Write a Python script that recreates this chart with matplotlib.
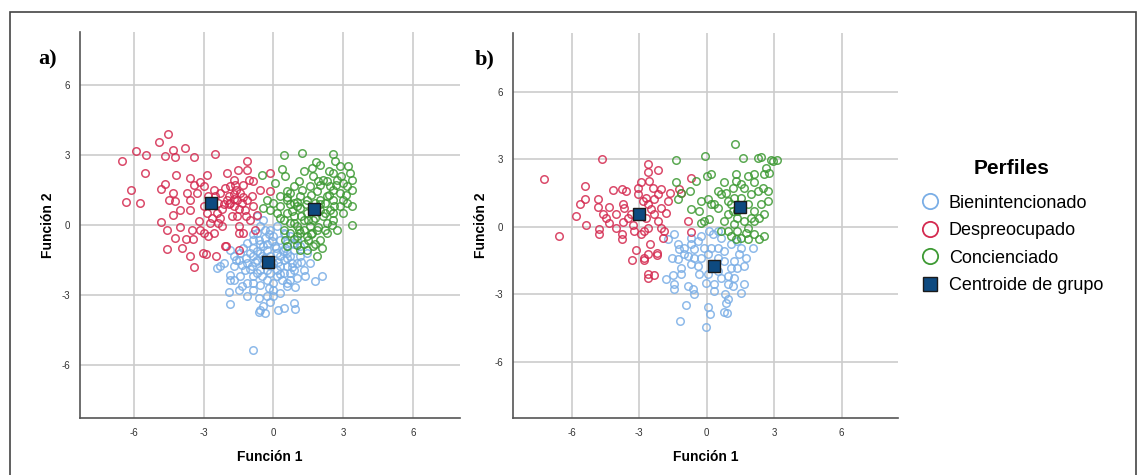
import matplotlib.pyplot as plt
from matplotlib.lines import Line2D
from matplotlib.patches import Rectangle

# ---- data (Función 1, Función 2) ----
# panel a)
a_desp = [(-4.53, 3.92), (-4.9, 3.56), (-5.89, 3.2), (-6.5, 2.77), (-5.46, 3.01), (-4.67, 2.96),
          (-4.33, 3.24), (-4.24, 2.93), (-3.79, 3.29), (-3.43, 2.91), (-2.53, 3.06), (-1.13, 2.77),
          (-5.53, 2.24), (-6.11, 1.52), (-6.31, 0.99), (-5.71, 0.96), (-4.81, 1.56), (-4.64, 1.78),
          (-4.19, 2.17), (-4.29, 1.38), (-4.21, 1.05), (-3.57, 2.02), (-3.57, 1.09), (-3.6, 0.66),
          (-4.81, 0.13), (-4.33, 0.44), (-4.57, -0.2), (-4.0, -0.1), (-4.21, -0.56), (-4.57, -1.03),
          (-3.93, -0.99), (-3.6, -1.32), (-3.39, -1.81), (-3.04, -1.21), (-2.9, -1.25), (-3.74, -0.6),
          (-3.46, -0.6), (-2.46, -1.32), (-2.03, -0.89), (-3.14, -0.2), (-3.0, -0.34), (-3.21, 0.16),
          (-3.14, 1.84), (-3.43, 1.74), (-2.86, 2.14), (-3.0, 1.66), (-3.29, 1.38), (-2.57, 1.52),
          (-2.5, 1.23), (-2.43, 0.52), (-2.64, 0.3), (-2.29, 0.3), (-2.86, 0.52), (-2.21, -0.06),
          (-2.57, -0.34), (-2.79, -0.49), (-3.0, 0.8), (-2.0, 2.24), (-1.71, 1.95), (-1.54, 2.35),
          (-1.14, 2.35), (-1.07, 1.95), (-1.86, 1.66), (-1.64, 1.74), (-1.43, 1.38), (-2.0, 1.09),
          (-1.86, 0.95), (-1.71, 0.8), (-1.57, 1.09), (-1.36, 0.95), (-1.14, 1.09), (-1.21, 0.66),
          (-1.57, 0.37), (-1.5, -0.06), (-1.29, -0.34), (-1.5, -0.34), (-0.86, 1.88), (-0.57, 1.52),
          (-0.17, 1.48), (-0.79, -0.2), (-0.71, 0.44), (-0.86, 0.8), (-1.0, 0.23), (-1.93, 1.23),
          (-2.11, 0.92), (-1.71, 1.35), (-1.31, 1.74), (-0.93, 1.23), (-2.07, -0.92), (-1.47, -1.09),
          (-0.14, 2.24), (-2.29, 1.38), (-2.79, 1.23), (-2.36, 0.95), (-4.0, 0.66), (-3.71, 1.38),
          (-4.5, 1.09), (-2.71, 0.09), (-3.5, -0.2),
          (-1.9, 0.9), (-1.7, 1.1), (-1.5, 0.7), (-1.3, 1.2), (-2.2, 0.7), (-1.6, 1.5), (-1.2, 0.4),
          (-2.4, 0.1), (-1.8, 0.4), (-2.1, 1.6)]
a_conc = [(0.43, 3.01), (1.21, 3.1), (2.57, 3.06), (2.64, 2.77), (1.83, 2.7), (3.21, 2.53), (3.29, 2.24),
          (3.36, 1.95), (3.36, 1.52), (3.36, 0.8), (3.36, 0.01), (3.14, 1.66), (3.0, 1.09), (2.86, 0.8),
          (-0.5, 2.17), (0.07, 1.81), (0.36, 2.41), (0.5, 2.09), (1.29, 2.31), (1.64, 2.45), (2.0, 2.6),
          (2.36, 2.31), (2.71, 1.95), (2.43, 1.66), (2.0, 1.74), (1.71, 2.09), (0.86, 1.66), (1.21, 1.52),
          (0.29, 1.23), (0.57, 1.09), (0.86, 0.95), (1.14, 1.23), (1.43, 1.09), (2.0, 1.09), (2.29, 1.23),
          (2.57, 1.09), (2.43, 0.66), (2.14, 0.37), (2.57, 0.23), (2.71, -0.2), (2.29, -0.34), (2.0, -0.63),
          (1.71, -0.92), (2.07, -0.99), (1.86, -1.32), (1.43, -1.06), (1.14, -1.06), (1.0, -0.85),
          (0.57, -0.92), (0.5, -0.63), (0.71, -0.34), (1.0, -0.06), (1.29, 0.23), (1.57, -0.06),
          (1.86, -0.2), (1.43, -0.49), (1.14, -0.34), (0.86, 0.37), (0.57, 0.52), (0.43, 0.23),
          (0.14, 0.52), (0.29, 0.8), (0.0, 0.95), (-0.14, 0.66), (-0.43, 0.73), (-0.29, 1.09),
          (1.71, 0.66), (2.0, 0.66), (1.43, 0.52), (1.14, 0.73), (2.29, 0.09), (1.71, 0.23), (2.86, 1.38),
          (2.57, 1.52), (3.0, 1.81), (1.86, 1.48), (1.57, 1.66), (0.71, 1.38), (1.0, 0.8), (1.5, -0.63),
          (1.64, -0.34), (2.57, 0.52), (3.14, 0.95), (2.57, 2.24), (2.14, 1.95), (2.86, 2.53), (0.57, 1.45),
          (2.21, 0.95), (1.79, 0.95), (1.29, -0.2), (0.71, 0.09), (1.0, -0.49), (0.43, -0.2),
          (0.6, 1.2), (0.8, 0.6), (1.0, 1.0), (1.2, 0.4), (1.4, 0.9), (1.6, 1.3), (1.8, 0.3), (2.0, 0.9),
          (2.2, 0.5), (2.4, 1.3), (2.6, 0.8), (1.1, -0.2), (1.3, -0.8), (1.6, -0.4), (1.9, -0.1),
          (2.2, -0.2), (0.9, 0.1), (0.7, 0.9), (1.5, 0.2), (2.7, 1.7), (2.9, 2.1), (3.1, 1.3), (2.3, 1.9),
          (1.9, 1.9), (1.1, 1.9), (0.3, 0.3), (0.9, -0.6), (1.8, -0.8), (2.5, 0.0), (3.0, 0.5)]
a_bien = [(-0.86, -5.37), (-1.86, -3.4), (-1.89, -2.88), (-1.86, -2.35), (-1.86, -2.14), (-2.43, -1.85),
          (-2.29, -1.78), (-2.14, -1.64), (-1.71, -1.78), (-1.5, -1.49), (-1.71, -1.35), (-1.43, -1.21),
          (-1.86, -1.06), (-1.14, -0.77), (-0.86, -0.63), (-0.71, -0.34), (-0.57, -0.06), (-0.43, 0.23),
          (-0.71, 0.37), (-0.14, -0.2), (0.14, -0.06), (0.0, -0.49), (0.29, -0.63), (0.57, -0.77),
          (0.86, -1.06), (0.71, -1.35), (1.0, -1.64), (0.86, -1.92), (0.71, -2.35), (0.93, -2.67),
          (0.57, -2.64), (0.29, -2.93), (0.0, -2.78), (-0.29, -3.07), (-0.14, -3.29), (-0.43, -3.5),
          (-0.57, -3.64), (-0.36, -3.79), (-0.64, -3.72), (0.21, -3.64), (0.43, -3.57), (0.86, -3.36),
          (0.93, -3.62), (-1.14, -3.07), (-1.36, -2.64), (-1.5, -2.78), (-1.14, -2.5), (-0.86, -2.21),
          (-0.57, -2.57), (-0.64, -3.14), (-0.86, -2.78), (-1.43, -2.21), (-1.21, -1.92), (-0.93, -1.78),
          (-0.71, -1.49), (-1.0, -1.21), (-0.86, -0.99), (-0.57, -1.21), (-0.29, -1.06), (-0.43, -0.92),
          (-0.14, -1.35), (0.14, -1.21), (0.0, -1.64), (0.29, -1.78), (0.43, -1.49), (0.57, -1.78),
          (0.43, -2.07), (0.14, -2.21), (-0.14, -2.07), (-0.29, -1.92), (-0.43, -1.64), (-0.57, -1.92),
          (-0.71, -2.07), (0.14, -1.92), (0.36, -2.35), (0.0, -2.5), (-0.29, -2.35), (1.14, -1.35),
          (1.29, -1.92), (1.36, -2.21), (1.79, -2.42), (2.07, -2.21), (1.57, -1.64), (1.43, -1.21),
          (1.14, -0.92), (1.0, -0.63), (0.71, -0.49), (0.43, -0.34), (0.57, -1.21), (0.79, -1.64),
          (0.5, -0.99), (0.07, -0.92), (-0.07, -0.7), (-0.36, -0.56), (-0.36, -0.2), (-0.64, -0.63),
          (-0.86, -1.35), (-1.14, -1.64), (-1.36, -1.71), (-1.71, -2.35), (0.0, -3.07), (0.57, -2.5),
          (0.71, -2.07), (0.29, -1.35), (-0.5, -1.35), (-0.21, -1.71),
          (-0.9, -0.4), (-0.6, -0.8), (-0.3, -0.8), (0.1, -1.0), (0.4, -1.1), (-0.8, -1.6), (-0.4, -1.4),
          (0.2, -1.6), (0.6, -1.4), (-1.2, -1.4), (-1.0, -1.9), (-0.5, -2.2), (0.3, -2.1), (0.8, -1.8),
          (1.0, -2.3), (-0.2, -2.7), (-0.9, -2.5), (1.2, -1.6), (0.5, -0.4), (-0.2, -0.4), (-1.3, -1.0),
          (-1.6, -1.5), (0.9, -0.8), (-0.7, -1.1)]
a_cent = [(-0.24, -1.59), (-2.69, 0.95), (1.74, 0.69)]

# panel b)
b_desp = [(-7.21, 2.13), (-6.55, -0.43), (-4.65, 3.0), (-5.39, 1.82), (-5.39, 1.24), (-5.63, 0.99),
          (-5.81, 0.47), (-5.35, 0.09), (-4.83, 1.23), (-4.84, 0.89), (-4.8, -0.12), (-4.77, -0.31),
          (-4.62, 0.55), (-4.47, 0.37), (-4.34, 0.18), (-4.33, 0.87), (-4.18, 1.63), (-4.03, 0.55),
          (-4.03, -0.07), (-3.76, 1.67), (-3.58, 1.58), (-3.73, 1.02), (-3.69, 0.84), (-3.73, 0.22),
          (-3.76, -0.34), (-3.76, -0.53), (-3.36, 0.55), (-3.5, 0.4), (-3.29, 0.07), (-3.14, -1.05),
          (-3.32, -1.48), (-2.8, -1.38), (-2.77, -1.47), (-2.62, -1.23), (-2.2, -1.16), (-2.2, -1.26),
          (-2.5, -0.79), (-2.62, -2.12), (-2.62, -2.27), (-2.33, -2.15), (-3.07, 1.73), (-3.07, 1.44),
          (-2.92, 1.96), (-2.84, 1.14), (-2.61, 2.77), (-2.6, 2.44), (-2.15, 2.5), (-2.55, 2.03),
          (-2.4, 1.73), (-2.17, 1.44), (-2.03, 1.66), (-2.33, 1.21), (-2.62, 0.99), (-2.47, 0.77),
          (-2.33, 0.55), (-2.17, 0.25), (-2.03, -0.04), (-1.88, -0.19), (-1.95, -0.49), (-2.62, -0.04),
          (-2.77, -0.19), (-2.92, -0.34), (-2.7, 0.4), (-1.81, 0.59), (-1.63, 1.48), (-1.73, 1.14),
          (-2.03, 0.84), (-3.21, -0.19), (-2.7, 1.29), (-0.69, 2.15), (-0.69, -0.24), (-0.84, 0.25),
          (-1.21, 1.66), (-1.14, 1.51)]
b_conc = [(1.26, 3.69), (-0.06, 3.14), (-1.34, 2.97), (1.6, 3.07), (2.27, 3.07), (2.41, 3.1), (2.86, 2.95),
          (3.12, 2.95), (2.97, 2.92), (2.64, 2.62), (2.78, 2.4), (2.56, 2.33), (2.12, 2.33), (1.82, 2.25),
          (1.3, 2.33), (1.32, 2.03), (0.79, 1.98), (0.01, 2.25), (0.19, 2.33), (-0.47, 2.03), (-1.36, 1.96),
          (-1.14, 1.51), (-1.29, 1.21), (-0.73, 1.58), (-0.25, 1.14), (0.04, 1.21), (0.19, 0.99),
          (0.49, 0.84), (0.12, 0.33), (-0.13, 0.25), (-0.33, 0.69), (-0.69, 0.77), (-0.25, 0.18),
          (0.64, 1.44), (0.49, 1.58), (0.93, 1.14), (0.93, 0.55), (0.79, 0.25), (0.64, -0.19), (0.93, -0.19),
          (1.23, 0.1), (1.37, -0.19), (1.52, -0.49), (1.82, -0.56), (2.12, -0.34), (2.33, -0.56),
          (2.56, -0.41), (2.56, 0.55), (2.41, 0.99), (2.71, 1.14), (2.71, 1.58), (2.49, 1.73), (2.27, 1.58),
          (1.97, 1.44), (1.67, 1.73), (1.52, 1.29), (1.82, 0.99), (2.12, 0.69), (1.97, 0.4), (1.67, 0.25),
          (1.37, 0.4), (1.15, 0.69), (1.08, 0.99), (1.23, 1.29), (2.12, 0.25), (1.82, -0.04), (1.37, 0.69),
          (2.34, 0.4), (2.12, 1.96), (1.52, 1.88), (1.15, 1.73), (0.86, 1.51), (0.34, 0.99), (1.08, -0.41),
          (1.3, -0.56), (1.75, -0.27)]
b_bien = [(-0.03, -4.44), (-1.18, -4.19), (-0.9, -3.48), (0.04, -3.57), (0.16, -3.87), (0.75, -3.79),
          (0.9, -3.85), (0.86, -3.38), (0.93, -3.23), (0.83, -3.0), (1.53, -2.93), (1.64, -2.53),
          (0.34, -2.86), (-0.55, -3.0), (-0.62, -2.78), (-0.84, -2.64), (-1.44, -2.78), (-1.44, -2.56),
          (-1.81, -2.34), (-1.51, -2.15), (-1.14, -1.82), (-1.29, -1.45), (-1.55, -1.38), (-1.21, -1.0),
          (-1.29, -0.78), (-1.44, -0.34), (-1.73, -0.56), (-0.99, -0.93), (-0.69, -0.78), (-0.55, -1.0),
          (-0.4, -0.64), (-0.1, -0.93), (0.04, -1.23), (0.19, -0.93), (0.27, -0.34), (0.12, -0.19),
          (0.49, -0.19), (0.64, -0.49), (0.49, -0.93), (0.78, -1.08), (1.08, -0.78), (1.37, -0.64),
          (1.52, -0.93), (1.75, -1.38), (1.67, -1.75), (2.04, -0.93), (1.45, -1.23), (1.23, -1.53),
          (1.08, -1.82), (1.37, -1.82), (1.23, -2.27), (0.93, -2.19), (0.64, -2.27), (0.49, -1.97),
          (0.04, -2.12), (-0.03, -2.49), (-0.33, -2.12), (-0.4, -1.75), (-0.69, -1.67), (-0.25, -1.38),
          (-0.55, -1.38), (-0.84, -1.3), (0.78, -1.53), (0.49, -1.38), (0.93, -2.56), (1.15, -2.64),
          (0.34, -2.56), (-0.25, -0.41), (-0.69, -0.49), (-0.99, -1.23), (-1.14, -2.12)]
b_cent = [(0.33, -1.75), (-2.99, 0.55), (1.47, 0.89)]

groups = ['Bienintencionado', 'Despreocupado', 'Concienciado']
colors = ['#7aaee6', '#d42a50', '#3e9a34']
ticks = [-6, -3, 0, 3, 6]

plt.rcParams['font.family'] = ['Liberation Sans', 'DejaVu Sans']
plt.rcParams['axes.unicode_minus'] = False

fig = plt.figure(figsize=(11.41, 4.75), dpi=100)
fig.patches.append(Rectangle((10 / 1141, -0.01), 1126 / 1141, 1 - 12 / 475 + 0.01,
                             transform=fig.transFigure, fill=False, edgecolor='#444444', lw=1.2))


def panel(rect, series, cent, xlim, ylim, tag, tagx):
    ax = fig.add_axes(rect)
    for pts, col in zip(series, colors):
        ax.plot([p[0] for p in pts], [p[1] for p in pts], 'o', ls='none', ms=5.4,
                mfc='none', mec=col, mew=1.1, alpha=0.85)
    ax.plot([p[0] for p in cent], [p[1] for p in cent], 's', ls='none', ms=9,
            mfc='#0e4a80', mec='#1a1a1a', mew=1)
    ax.set_xlim(xlim)
    ax.set_ylim(ylim)
    ax.set_xticks(ticks)
    ax.set_yticks(ticks)
    ax.grid(True, color='#cccccc', lw=1.2)
    ax.set_axisbelow(True)
    for s in ['top', 'right']:
        ax.spines[s].set_visible(False)
    for s in ['left', 'bottom']:
        ax.spines[s].set_color('#555555')
        ax.spines[s].set_linewidth(1.2)
    ax.tick_params(length=0, labelsize=7, colors='#333333', pad=7)
    ax.set_xlabel('Función 1', fontsize=10, fontweight='bold', labelpad=9)
    ax.set_ylabel('Función 2', fontsize=10, fontweight='bold', labelpad=5)
    ax.text(tagx, 0.93, tag, transform=ax.transAxes, fontsize=16, fontweight='bold',
            family='Liberation Serif', va='center', ha='left')
    return ax


panel([80 / 1141, 57 / 475, 380 / 1141, 386 / 475], [a_bien, a_desp, a_conc], a_cent,
      (-8.3, 8.0), (-8.3, 8.3), 'a)', -0.11)
panel([513 / 1141, 57 / 475, 385 / 1141, 385 / 475], [b_bien, b_desp, b_conc], b_cent,
      (-8.6, 8.5), (-8.5, 8.6), 'b)', -0.1)

handles = [Line2D([], [], marker='o', ls='none', ms=11, mfc='none', mec=c, mew=1.3) for c in colors]
handles.append(Line2D([], [], marker='s', ls='none', ms=10, mfc='#0e4a80', mec='#1a1a1a', mew=1))
leg = fig.legend(handles, groups + ['Centroide de grupo'], loc='upper left',
                 bbox_to_anchor=(911 / 1141, 1 - 150 / 475), frameon=False, fontsize=13,
                 title='Perfiles', title_fontproperties={'size': 15, 'weight': 'bold'},
                 handletextpad=0.5, labelspacing=0.58, handlelength=1.1, borderpad=0)
leg._legend_box.sep = 12

fig.savefig('out.png', dpi=100)
